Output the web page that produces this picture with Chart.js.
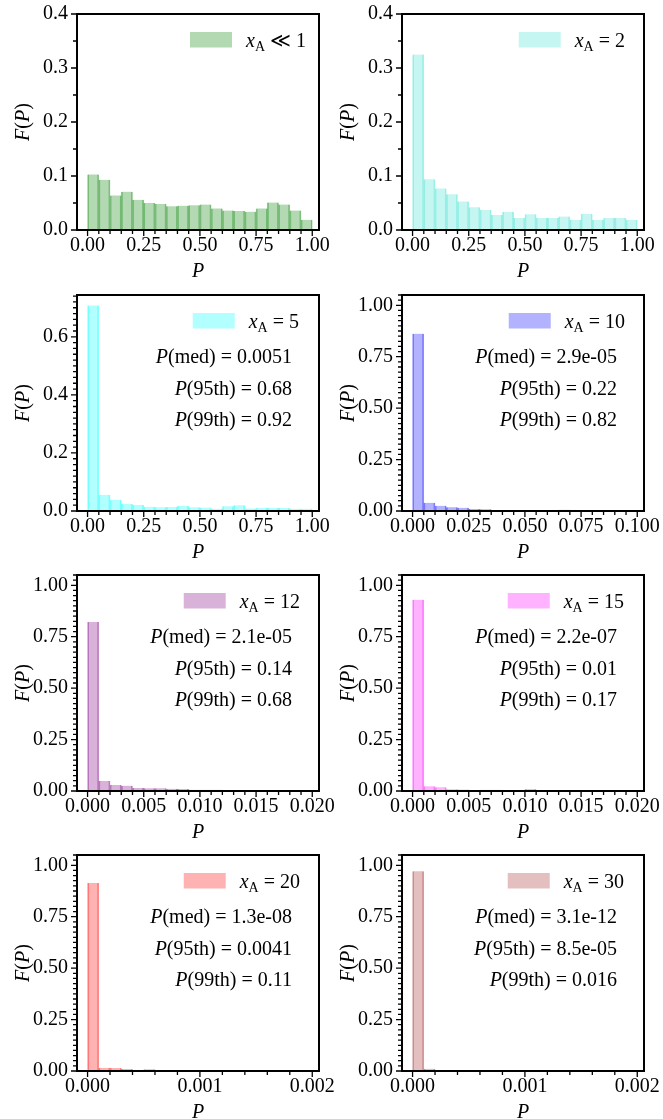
<!DOCTYPE html>
<html>
<head>
<meta charset="utf-8">
<script src="https://cdn.jsdelivr.net/npm/chart.js@4.4.0/dist/chart.umd.min.js"></script>
<style>
  html,body{margin:0;padding:0;background:#fff;}
  body{width:663px;height:1119px;position:relative;overflow:hidden;}
  canvas{position:absolute;}
</style>
</head>
<body>
<script>
// F(P) per bin (20 equal bins from 0 to 20*binWidth)
const fP_xA1  = [0.103,0.093,0.064,0.071,0.056,0.050,0.048,0.044,0.045,0.046,0.047,0.040,0.036,0.035,0.034,0.040,0.051,0.047,0.036,0.019];
const fP_xA2  = [0.325,0.094,0.077,0.066,0.053,0.042,0.037,0.028,0.034,0.022,0.029,0.022,0.022,0.025,0.019,0.030,0.019,0.022,0.022,0.019];
const fP_xA5  = [0.708,0.056,0.039,0.025,0.021,0.015,0.013,0.014,0.018,0.013,0.012,0.008,0.016,0.020,0.009,0.011,0.011,0.010,0.008,0.008];
const fP_xA10 = [0.862,0.040,0.025,0.018,0.016,0.010,0.009,0.002,0.001,0.001,0.001,0.001,0.001,0.006,0.001,0.001,0.001,0.001,0.001,0.001];
const fP_xA12 = [0.821,0.049,0.029,0.026,0.015,0.013,0.013,0.011,0.010,0.006,0.006,0.006,0.005,0.005,0.005,0.005,0.001,0.001,0.001,0.001];
const fP_xA15 = [0.930,0.023,0.018,0.008,0.007,0.005,0.006,0.006,0.003,0.004,0.010,0.001,0.001,0.001,0.001,0.001,0.001,0.001,0.001,0.001];
const fP_xA20 = [0.914,0.016,0.015,0.010,0.004,0.008,0.005,0.003,0.002,0.002,0.002,0.001,0.001,0.001,0.001,0.001,0.001,0.001,0.001,0.001];
const fP_xA30 = [0.971,0.011,0.003,0.001,0.001,0.001,0.000,0.000,0.000,0.000,0.000,0.000,0.000,0.000,0.000,0.000,0.000,0.000,0.000,0.000];

const series   = [fP_xA1, fP_xA2, fP_xA5, fP_xA10, fP_xA12, fP_xA15, fP_xA20, fP_xA30];
const binWidth = [0.05, 0.05, 0.05, 0.005, 0.001, 0.001, 0.0001, 0.0001];
const legendRel = ['≪', '=', '=', '=', '=', '=', '=', '='];
const legendVal = ['1', '2', '5', '10', '12', '15', '20', '30'];
const pMed = [null, null, '0.0051', '2.9e-05', '2.1e-05', '2.2e-07', '1.3e-08', '3.1e-12'];
const p95  = [null, null, '0.68', '0.22', '0.14', '0.01', '0.0041', '8.5e-05'];
const p99  = [null, null, '0.92', '0.82', '0.68', '0.17', '0.11', '0.016'];

// tick labels
const xTicksA = ['0.00','0.25','0.50','0.75','1.00'];
const xTicksB = ['0.000','0.025','0.050','0.075','0.100'];
const xTicksC = ['0.000','0.005','0.010','0.015','0.020'];
const xTicksD = ['0.000','0.001','0.002'];
const yTicksA = ['0.0','0.1','0.2','0.3','0.4'];
const yTicksB = ['0.0','0.2','0.4','0.6'];
const yTicksC = ['0.00','0.25','0.50','0.75','1.00'];
const xTickSet = [xTicksA, xTicksA, xTicksA, xTicksB, xTicksC, xTicksC, xTicksD, xTicksD];
const yTickSet = [yTicksA, yTicksA, yTicksB, yTicksC, yTicksC, yTicksC, yTicksC, yTicksC];
const yMax = [0.4, 0.4, 0.744, 1.05, 1.05, 1.05, 1.05, 1.05];

// ----- style / layout -----
const colors = ['0,128,0','64,224,208','0,255,255','0,0,255','128,0,128','255,0,255','255,0,0','165,42,42'];
const yMinorDiv = [2, 2, 10, 10, 10, 10, 10, 10];
const legendPad = [13, 19, 20, 19, 19, 20, 19, 20];
const colLeft = [77, 402];
const rowTop = [14, 295, 575, 855];
const PW = 242, PH = 216, CW = 345, CH = 282;
const SERIF = '"Liberation Serif", "DejaVu Serif", serif';
const RM = '20px ' + SERIF, IT = 'italic 20px ' + SERIF, SUB = '14px ' + SERIF;

function tickList(labels, div, max){
  const step = (parseFloat(labels[1]) - parseFloat(labels[0])) / div;
  const out = [];
  for(let k=0; k*step <= max*(1+1e-9); k++){
    out.push({value:k*step, text: k%div===0 && labels[k/div] ? labels[k/div] : ''});
  }
  return out;
}

function runsWidth(ctx, runs){
  return runs.reduce((w,r)=>{ ctx.font=r.f; return w+ctx.measureText(r.t).width; }, 0);
}
function drawRuns(ctx, runs, x, y){
  runs.forEach(r=>{ ctx.font=r.f; ctx.fillText(r.t, x, y+(r.dy||0)); x += ctx.measureText(r.t).width; });
}

// spines, tick marks, axis titles, legend and quantile text
const decor = {
  id:'decor',
  afterDraw(chart){
    const o = chart.options.plugins.decor;
    const {ctx, chartArea:a} = chart;
    const xs = chart.scales.x, ys = chart.scales.y;
    ctx.save();
    ctx.strokeStyle = '#000';
    ctx.lineWidth = 1.3;
    ctx.beginPath();
    xs.ticks.forEach(t=>{
      const px = xs.getPixelForValue(t.value);
      ctx.moveTo(px, a.bottom+1); ctx.lineTo(px, a.bottom+1+(t.label?5:3));
    });
    ys.ticks.forEach(t=>{
      const py = ys.getPixelForValue(t.value);
      ctx.moveTo(a.left-1, py); ctx.lineTo(a.left-1-(t.label?5:3), py);
    });
    ctx.stroke();
    ctx.lineWidth = 2;
    ctx.strokeRect(a.left, a.top, a.right-a.left, a.bottom-a.top);

    ctx.fillStyle = '#000';
    ctx.textBaseline = 'alphabetic';
    ctx.textAlign = 'left';
    // x title
    ctx.font = IT;
    const pw = ctx.measureText('P').width;
    ctx.fillText('P', (a.left+a.right)/2 - pw/2, a.bottom+47);
    // y title
    const yt = [{t:'F',f:IT},{t:'(',f:RM},{t:'P',f:IT},{t:')',f:RM}];
    ctx.save();
    ctx.translate(a.left-48, (a.top+a.bottom)/2);
    ctx.rotate(-Math.PI/2);
    drawRuns(ctx, yt, -runsWidth(ctx, yt)/2, 0);
    ctx.restore();

    // legend
    const lg = [{t:'x',f:IT},{t:'A',f:SUB,dy:4},{t:' '+o.rel+' '+o.val,f:RM}];
    const lw = runsWidth(ctx, lg);
    const tx = a.right - o.pad - lw;
    ctx.fillStyle = o.fill;
    ctx.fillRect(tx-14-42, a.top+18, 42, 15.5);
    ctx.fillStyle = '#000';
    drawRuns(ctx, lg, tx, a.top+33);

    // quantiles
    if(o.med){
      [['med',o.med,68],['95th',o.p95,99.5],['99th',o.p99,131]].forEach(([q,v,dy])=>{
        const r = [{t:'P',f:IT},{t:'('+q+') = '+v,f:RM}];
        drawRuns(ctx, r, a.right-27-runsWidth(ctx, r), a.top+dy);
      });
    }
    ctx.restore();
  }
};

series.forEach((vals,i)=>{
  const col = i%2, row = Math.floor(i/2);
  const bw = binWidth[i], R = 20*bw;
  const cv = document.createElement('canvas');
  cv.width = CW; cv.height = CH;
  cv.style.left = (colLeft[col]-77)+'px';
  cv.style.top = (rowTop[row]-14)+'px';
  document.body.appendChild(cv);

  const xt = tickList(xTickSet[i], 5, R);
  const yt = tickList(yTickSet[i], yMinorDiv[i], yMax[i]);
  const fill = 'rgba('+colors[i]+',0.3)';

  new Chart(cv, {
    type:'bar',
    data:{datasets:[{
      data: vals.map((v,k)=>({x:(k+0.5)*bw, y:v})),
      backgroundColor: fill,
      borderColor: 'rgba('+colors[i]+',0.45)',
      borderWidth: {left:1, right:1, top:0, bottom:0},
      barPercentage: 1, categoryPercentage: 1
    }]},
    options:{
      responsive:false, animation:false, devicePixelRatio:1,
      layout:{padding:{top:14, right:CW-77-PW, left:0, bottom:0}},
      plugins:{
        legend:{display:false}, tooltip:{enabled:false},
        decor:{rel:legendRel[i], val:legendVal[i], pad:legendPad[i], fill,
               med:pMed[i], p95:p95[i], p99:p99[i]}
      },
      scales:{
        x:{type:'linear', min:-0.047*R, max:1.03*R, offset:false,
           grid:{display:false, drawTicks:false}, border:{display:false},
           afterBuildTicks: s=>{ s.ticks = xt.map(t=>({value:t.value})); },
           afterFit: s=>{ s.height = CH-14-PH; s.paddingLeft = 0; s.paddingRight = 0; },
           ticks:{autoSkip:false, maxRotation:0, padding:4, color:'#000',
                  font:{family:SERIF, size:20}, callback:(v,k)=>xt[k].text}},
        y:{type:'linear', min:0, max:yMax[i],
           grid:{display:false, drawTicks:false}, border:{display:false},
           afterBuildTicks: s=>{ s.ticks = yt.map(t=>({value:t.value})); },
           afterFit: s=>{ s.width = 77; s.paddingTop = 0; s.paddingBottom = 0; },
           ticks:{autoSkip:false, padding:9, color:'#000',
                  font:{family:SERIF, size:20}, callback:(v,k)=>yt[k].text}}
      }
    },
    plugins:[decor]
  });
});
</script>
</body>
</html>
